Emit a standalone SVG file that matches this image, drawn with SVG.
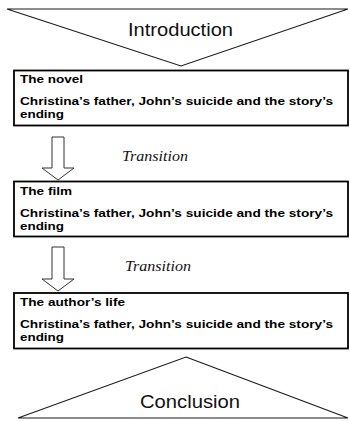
<svg xmlns="http://www.w3.org/2000/svg" width="350" height="421" viewBox="0 0 350 421">
<style>
.tri{fill:#fff;stroke:#1a1a1a;stroke-width:1.1}
.box{fill:#fff;stroke:#000;stroke-width:1.8}
.arr{fill:#fff;stroke:#333;stroke-width:1}
.big{font-family:"Liberation Sans",Arial,sans-serif;font-size:18px;fill:#111}
.b{font-family:"Liberation Sans",Arial,sans-serif;font-size:11px;font-weight:bold;fill:#000}
.tr{font-family:"Liberation Serif","Times New Roman",serif;font-size:15px;font-style:italic;fill:#111}
</style>
<rect width="350" height="421" fill="#fff"/>
<g id="introduction">
<polygon class="tri" points="7,9 348,9 181,66"/>
<text class="big" x="128" y="36" textLength="105" lengthAdjust="spacingAndGlyphs">Introduction</text>
</g>
<g id="novel">
<rect class="box" x="14" y="70.5" width="334" height="55"/>
<text class="b" x="20" y="83" textLength="63" lengthAdjust="spacingAndGlyphs">The novel</text>
<text class="b" x="20" y="105" textLength="313" lengthAdjust="spacingAndGlyphs">Christina’s father, John’s suicide and the story’s</text>
<text class="b" x="20" y="118" textLength="44" lengthAdjust="spacingAndGlyphs">ending</text>
</g>
<g id="film">
<rect class="box" x="14" y="181.5" width="334" height="55"/>
<text class="b" x="20" y="194.5" textLength="52" lengthAdjust="spacingAndGlyphs">The film</text>
<text class="b" x="20" y="216.5" textLength="313" lengthAdjust="spacingAndGlyphs">Christina’s father, John’s suicide and the story’s</text>
<text class="b" x="20" y="229.5" textLength="44" lengthAdjust="spacingAndGlyphs">ending</text>
</g>
<g id="author">
<rect class="box" x="14" y="293" width="334" height="55.5"/>
<text class="b" x="20" y="306" textLength="105" lengthAdjust="spacingAndGlyphs">The author’s life</text>
<text class="b" x="20" y="328" textLength="313" lengthAdjust="spacingAndGlyphs">Christina’s father, John’s suicide and the story’s</text>
<text class="b" x="20" y="341" textLength="44" lengthAdjust="spacingAndGlyphs">ending</text>
</g>
<g id="conclusion">
<polygon class="tri" points="186,357 348,418 18,418"/>
<text class="big" x="140" y="408" style="font-size:19px" textLength="100" lengthAdjust="spacingAndGlyphs">Conclusion</text>
</g>
<g id="connectors">
<polygon class="arr" points="52,137 64,137 64,168 74,168 58,180 42,168 52,168"/>
<text class="tr" x="122" y="161" textLength="66" lengthAdjust="spacingAndGlyphs">Transition</text>
<polygon class="arr" points="52,247 64,247 64,279 74,279 58,291 42,279 52,279"/>
<text class="tr" x="125" y="271" textLength="66" lengthAdjust="spacingAndGlyphs">Transition</text>
</g>
</svg>
